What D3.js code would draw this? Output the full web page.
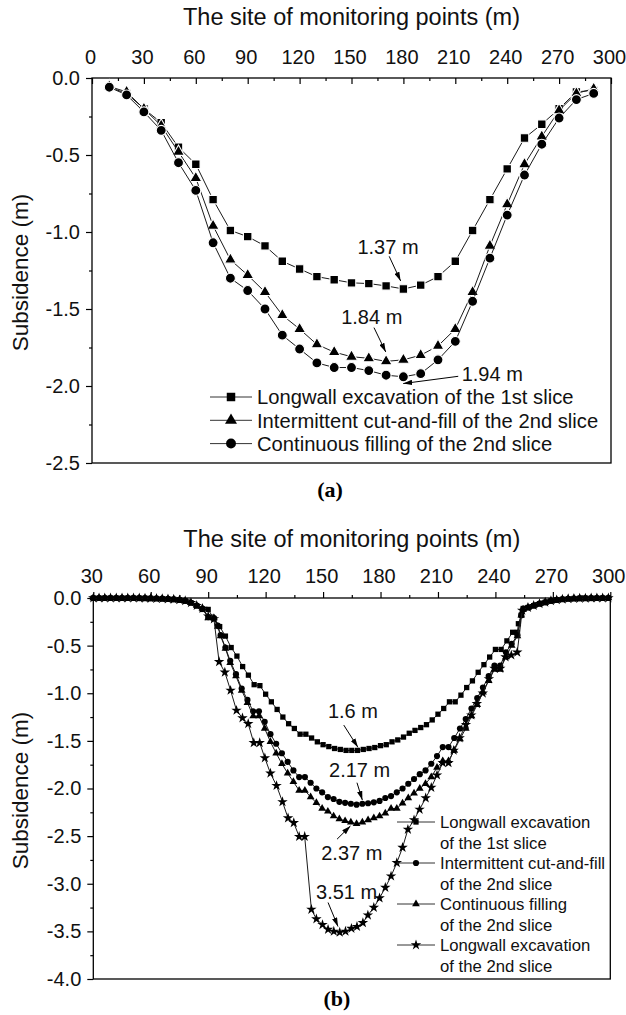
<!DOCTYPE html>
<html>
<head>
<meta charset="utf-8">
<script src="https://cdn.jsdelivr.net/npm/d3@7"></script>
<style>
  body { margin: 0; background: #fff; }
  svg { display: block; font-family: "Liberation Sans", Arial, Helvetica, sans-serif; }
  .axis path { display: none; }
  .axis line { stroke: #000; stroke-width: 1.2; }
  .axis text { font-size: 20px; fill: #111; font-family: "Liberation Sans", Arial, sans-serif; }
  .frame { fill: none; stroke: #000; stroke-width: 1.3; }
  .title { font-size: 23.5px; fill: #111; }
  .ylabel { font-size: 22.5px; fill: #111; }
  .series { fill: none; stroke: #1a1a1a; stroke-width: 1; }
  .note { font-size: 20px; fill: #111; }
  .note-arrow { stroke: #000; stroke-width: 1; }
  .panel-tag { font-family: "Liberation Serif", "Times New Roman", serif; font-weight: bold; font-size: 22px; }
</style>
</head>
<body>
<div id="chart"></div>
<script>

// ---- panel (a) ----
const siteA = [10, 20, 30, 40, 50, 60, 70, 80, 90, 100, 110, 120, 130, 140, 150,
  160, 170, 180, 190, 200, 210, 220, 230, 240, 250, 260, 270, 280, 290];
const longwall1A = [-0.06, -0.10, -0.20, -0.29, -0.45, -0.56, -0.79, -0.99, -1.03, -1.09,
  -1.19, -1.24, -1.29, -1.31, -1.33, -1.335, -1.35, -1.37, -1.345, -1.29, -1.19, -0.99,
  -0.79, -0.59, -0.39, -0.30, -0.20, -0.09, -0.08];
const intermittentA = [-0.055, -0.09, -0.20, -0.31, -0.48, -0.65, -0.96, -1.18, -1.28, -1.39,
  -1.54, -1.63, -1.73, -1.78, -1.81, -1.82, -1.84, -1.83, -1.80, -1.74, -1.63, -1.39,
  -1.09, -0.82, -0.56, -0.38, -0.21, -0.10, -0.07];
const continuousA = [-0.06, -0.11, -0.22, -0.34, -0.55, -0.73, -1.07, -1.30, -1.38, -1.50,
  -1.67, -1.76, -1.85, -1.88, -1.88, -1.90, -1.93, -1.94, -1.92, -1.83, -1.71, -1.45,
  -1.17, -0.89, -0.63, -0.43, -0.26, -0.14, -0.10];
const xTicksA = [0, 30, 60, 90, 120, 150, 180, 210, 240, 270, 300];
const yTicksA = [0, -0.5, -1.0, -1.5, -2.0, -2.5];
const legendA = ['Longwall excavation of the 1st slice',
  'Intermittent cut-and-fill of the 2nd slice',
  'Continuous filling of the 2nd slice'];

// ---- panel (b) ----
const flatLeftB = [[30, 0], [33, 0], [36, 0], [39, 0], [42, 0], [45, 0], [48, 0], [51, 0],
  [54, -0.001], [57, -0.002], [60, -0.003], [63, -0.005], [66, -0.007], [69, -0.01], [72, -0.014],
  [75, -0.02], [78, -0.03], [81, -0.05], [84, -0.08]];
const flatRightB = [[257, -0.10], [260, -0.08], [263, -0.06], [266, -0.045], [269, -0.03],
  [272, -0.02], [275, -0.013], [278, -0.008], [281, -0.005], [284, -0.003], [287, -0.002],
  [290, -0.001], [293, 0], [296, 0], [299, 0]];
const longwall1B = [[87, -0.12], [90, -0.12], [93, -0.22], [96, -0.30], [99, -0.40], [102, -0.52],
  [105, -0.61], [108, -0.72], [111, -0.81], [114, -0.91], [117, -0.92], [120, -1.01], [123, -1.09],
  [126, -1.17], [129, -1.25], [132, -1.32], [135, -1.37], [138, -1.43], [141, -1.43], [144, -1.47],
  [147, -1.51], [150, -1.54], [153, -1.56], [156, -1.58], [159, -1.59], [162, -1.60], [165, -1.60],
  [168, -1.60], [171, -1.59], [174, -1.58], [177, -1.57], [180, -1.55], [183, -1.54], [186, -1.51],
  [189, -1.49], [192, -1.46], [195, -1.42], [198, -1.39], [201, -1.36], [204, -1.33], [207, -1.28],
  [210, -1.22], [213, -1.16], [216, -1.09], [219, -1.09], [222, -1.02], [225, -0.94], [228, -0.87],
  [231, -0.78], [234, -0.70], [237, -0.62], [240, -0.54], [243, -0.54], [246, -0.45], [249, -0.36],
  [251.5, -0.36], [252, -0.27], [253.5, -0.18], [254.5, -0.11]];
const intermittentB = [[87, -0.11], [90, -0.20], [93, -0.21], [95, -0.29], [96.5, -0.39],
  [99, -0.52], [101.5, -0.66], [104.5, -0.80], [107.5, -0.95], [110.5, -1.07], [113.5, -1.19],
  [116.5, -1.19], [119.5, -1.30], [122.5, -1.43], [125.5, -1.53], [128.5, -1.63], [131.5, -1.72],
  [134.5, -1.81], [137.5, -1.88], [140.5, -1.88], [143.5, -1.94], [146.5, -2.00], [149.5, -2.04],
  [152.5, -2.09], [155.5, -2.11], [158.5, -2.14], [161.5, -2.15], [164.5, -2.16], [167.5, -2.17],
  [170.5, -2.16], [173.5, -2.155], [176.5, -2.145], [179.5, -2.13], [182.5, -2.10], [185.5, -2.08],
  [188.5, -2.04], [191.5, -2.00], [194.5, -1.95], [197.5, -1.90], [200.5, -1.85], [203.5, -1.81],
  [206.5, -1.74], [209.5, -1.66], [212.5, -1.565], [215.5, -1.565], [218.5, -1.47], [221.5, -1.37],
  [224.5, -1.27], [227.5, -1.16], [230.5, -1.05], [233.5, -0.94], [236.5, -0.82], [239.5, -0.71],
  [242.5, -0.71], [245.5, -0.57], [248.5, -0.48], [251.5, -0.39], [253.5, -0.18], [254.5, -0.12]];
const continuousB = [[87, -0.11], [90, -0.21], [93, -0.21], [95, -0.30], [96.5, -0.40],
  [99, -0.53], [101.5, -0.68], [104.5, -0.82], [107.5, -0.97], [110.5, -1.10], [113.5, -1.24],
  [116.5, -1.24], [119.5, -1.37], [122.5, -1.51], [125.5, -1.63], [128.5, -1.74], [131.5, -1.84],
  [134.5, -1.93], [137.5, -2.02], [140.5, -2.02], [143.5, -2.09], [146.5, -2.15], [149.5, -2.21],
  [152.5, -2.24], [155.5, -2.29], [158.5, -2.32], [161.5, -2.34], [164.5, -2.355], [167.5, -2.37],
  [170.5, -2.355], [173.5, -2.33], [176.5, -2.31], [179.5, -2.29], [182.5, -2.26], [185.5, -2.21],
  [188.5, -2.21], [191.5, -2.155], [194.5, -2.10], [197.5, -2.05], [200.5, -2.00], [203.5, -1.95],
  [206.5, -1.88], [209.5, -1.78], [212.5, -1.71], [215.5, -1.71], [218.5, -1.60], [221.5, -1.48],
  [224.5, -1.37], [227.5, -1.24], [230.5, -1.12], [233.5, -0.99], [236.5, -0.87], [239.5, -0.75],
  [242.5, -0.75], [245.5, -0.62], [248.5, -0.50], [251.5, -0.40], [253.5, -0.18], [254.5, -0.12]];
const longwall2B = [[87, -0.11], [90, -0.19], [93, -0.22], [95.7, -0.67], [98.7, -0.78],
  [101.7, -0.97], [104.8, -1.18], [107.9, -1.26], [110.9, -1.32], [113.8, -1.52], [116.9, -1.52],
  [119.6, -1.68], [122.5, -1.84], [125.7, -1.97], [128.8, -2.14], [131.7, -2.31], [134.7, -2.36],
  [137.5, -2.505], [140.4, -2.505], [143.9, -3.27], [146.5, -3.37], [149.7, -3.43], [152.6, -3.48],
  [155.6, -3.50], [158.7, -3.51], [161.7, -3.50], [164.8, -3.47], [167.7, -3.45], [170.8, -3.41],
  [173.4, -3.33], [176.5, -3.25], [179.5, -3.15], [182.5, -3.04], [185.5, -2.92], [188.5, -2.78],
  [191.5, -2.62], [194.3, -2.43], [197.5, -2.33], [200.4, -2.22], [203.6, -2.10], [206.5, -1.99],
  [209.5, -1.86], [212.5, -1.73], [215.5, -1.73], [218.2, -1.60], [221.3, -1.47], [224.6, -1.33],
  [227.4, -1.23], [230.3, -1.11], [233.4, -1.00], [236.6, -0.85], [239.5, -0.74], [242.5, -0.74],
  [245.3, -0.62], [248.3, -0.60], [251.4, -0.57], [254, -0.13]];
const xTicksB = [30, 60, 90, 120, 150, 180, 210, 240, 270, 300];
const yTicksB = [0, -0.5, -1.0, -1.5, -2.0, -2.5, -3.0, -3.5, -4.0];
const legendB = [['Longwall excavation', 'of the 1st slice'],
  ['Intermittent cut-and-fill', 'of the 2nd slice'],
  ['Continuous filling', 'of the 2nd slice'],
  ['Longwall excavation', 'of the 2nd slice']];


/**
 * One subsidence panel (frame, axes, curves, notes, legend).
 * @class
 */
class SubsidencePanel {


  /**
   * @constructor
   * @param {Object} config
   */
  constructor(config) {

    this._config = config;
    this._box = config.box;

    this._x = d3.scaleLinear()
      .domain(config.xDomain)
      .range([this._box.left, this._box.left + this._box.width]);

    this._y = d3.scaleLinear()
      .domain(config.yDomain)
      .range([this._box.top, this._box.top + this._box.height]);
  }


  /**
   * Render panel.
   * @param {d3.Selection} svg
   * @returns {SubsidencePanel}
   */
  renderTo(svg) {

    this._g = svg.append('g').attr('class', 'panel');

    this._drawAxes();
    this._drawSeries();
    this._drawNotes();
    this._drawLegend();

    return this;
  }


  _drawAxes() {

    const c = this._config;
    const box = this._box;
    const sign = c.ticksInward ? -1 : 1;
    const minorX = d3.range(c.xDomain[0], c.xDomain[1] + 1, 15).filter(v => c.xTicks.indexOf(v) < 0);
    const minorY = d3.range(0, c.yDomain[1] - 0.01, -0.25).filter(v => Math.abs(v * 2 - Math.round(v * 2)) > 0.01);

    this._g.append('g')
      .attr('class', 'axis')
      .attr('transform', 'translate(0,' + box.top + ')')
      .call(d3.axisTop(this._x)
        .tickValues(c.xTicks)
        .tickSizeInner(6 * sign)
        .tickSizeOuter(0)
        .tickPadding(c.ticksInward ? 14.5 : 9)
        .tickFormat(d3.format('d')))
      .selectAll('text')
      .attr('dx', '-2');

    this._g.append('g')
      .attr('class', 'axis')
      .attr('transform', 'translate(0,' + box.top + ')')
      .call(d3.axisTop(this._x)
        .tickValues(minorX)
        .tickSizeInner(3 * sign)
        .tickSizeOuter(0)
        .tickFormat(''));

    this._g.append('g')
      .attr('class', 'axis')
      .attr('transform', 'translate(' + box.left + ',0)')
      .call(d3.axisLeft(this._y)
        .tickValues(c.yTicks)
        .tickSizeInner(6)
        .tickSizeOuter(0)
        .tickPadding(6)
        .tickFormat(v => v.toFixed(1)));

    this._g.append('g')
      .attr('class', 'axis')
      .attr('transform', 'translate(' + box.left + ',0)')
      .call(d3.axisLeft(this._y)
        .tickValues(minorY)
        .tickSizeInner(3)
        .tickSizeOuter(0)
        .tickFormat(''));

    this._g.append('rect')
      .attr('class', 'frame')
      .attr('x', box.left)
      .attr('y', box.top)
      .attr('width', box.width)
      .attr('height', box.height);

    this._g.append('text')
      .attr('class', 'title')
      .attr('x', box.left + box.width / 2)
      .attr('y', c.titleY)
      .attr('text-anchor', 'middle')
      .text('The site of monitoring points (m)');

    this._g.append('text')
      .attr('class', 'ylabel')
      .attr('transform', 'translate(' + [20, box.top + box.height / 2 + 2] + ') rotate(-90)')
      .attr('dy', '0.35em')
      .attr('text-anchor', 'middle')
      .text('Subsidence (m)');

    this._g.append('text')
      .attr('class', 'panel-tag')
      .attr('x', c.tag.x)
      .attr('y', c.tag.y)
      .attr('text-anchor', 'middle')
      .text(c.tag.text);
  }


  _drawSeries() {

    const line = d3.line()
      .x(d => this._x(d[0]))
      .y(d => this._y(d[1]));

    this._config.series.forEach(s => {

      this._g.append('path')
        .attr('class', 'series')
        .attr('d', line(s.points));

      this._g.selectAll(null)
        .data(s.points)
        .enter()
        .append('path')
        .attr('transform', d => 'translate(' + [this._x(d[0]), this._y(d[1])] + ')')
        .attr('d', d3.symbol().type(s.symbol).size(s.size)())
        .style('fill', '#000')
        .style('stroke', '#fff')
        .style('stroke-width', this._config.markerOutline);
    });
  }


  _drawNotes() {

    this._config.notes.forEach(n => {

      this._g.append('line')
        .attr('class', 'note-arrow')
        .attr('x1', this._x(n.from[0]))
        .attr('y1', this._y(n.from[1]))
        .attr('x2', this._x(n.to[0]))
        .attr('y2', this._y(n.to[1]))
        .attr('marker-end', 'url(#arrow)');

      this._g.append('text')
        .attr('class', 'note')
        .attr('x', this._x(n.at[0]))
        .attr('y', this._y(n.at[1]))
        .attr('dy', '0.36em')
        .attr('text-anchor', n.anchor || 'middle')
        .text(n.text);
    });
  }


  _drawLegend() {

    const lg = this._config.legend;

    this._config.series.forEach((s, i) => {

      const y = lg.top + i * lg.step;
      const lines = [].concat(s.label);

      this._g.append('line')
        .attr('x1', lg.x1)
        .attr('x2', lg.x2)
        .attr('y1', y)
        .attr('y2', y)
        .style('stroke', '#333')
        .style('stroke-width', 1);

      this._g.append('path')
        .attr('transform', 'translate(' + [(lg.x1 + lg.x2) / 2, y] + ')')
        .attr('d', d3.symbol().type(s.symbol).size(s.size)())
        .style('fill', '#000');

      lines.forEach((t, j) => {
        this._g.append('text')
          .attr('x', lg.textX)
          .attr('y', y + j * lg.lineGap)
          .attr('dy', '0.36em')
          .style('font-size', lg.fontSize + 'px')
          .style('fill', '#111')
          .text(t);
      });
    });
  }
}


const svg = d3.select('#chart')
  .append('svg')
  .attr('width', 626)
  .attr('height', 1015);

svg.append('defs')
  .append('marker')
  .attr('id', 'arrow')
  .attr('viewBox', '0 0 10 6')
  .attr('refX', 10)
  .attr('refY', 3)
  .attr('markerUnits', 'userSpaceOnUse')
  .attr('markerWidth', 9)
  .attr('markerHeight', 5.5)
  .attr('orient', 'auto')
  .append('path')
  .attr('d', 'M0,0 L10,3 L0,6 Z')
  .style('fill', '#000');

new SubsidencePanel({
  box: { left: 92, top: 78, width: 519, height: 385 },
  xDomain: [0, 300],
  yDomain: [0, -2.5],
  xTicks: xTicksA,
  yTicks: yTicksA,
  ticksInward: true,
  titleY: 25,
  markerOutline: 1.1,
  tag: { text: '(a)', x: 330, y: 497 },
  series: [
    { label: legendA[0], symbol: d3.symbolSquare, size: 72, points: siteA.map((s, i) => [s, longwall1A[i]]) },
    { label: legendA[1], symbol: d3.symbolTriangle, size: 62, points: siteA.map((s, i) => [s, intermittentA[i]]) },
    { label: legendA[2], symbol: d3.symbolCircle, size: 78, points: siteA.map((s, i) => [s, continuousA[i]]) }
  ],
  notes: [
    { text: '1.37 m', at: [171.1, -1.097], from: [171.8, -1.158], to: [178.4, -1.318] },
    { text: '1.84 m', at: [161.7, -1.552], from: [163, -1.621], to: [169.8, -1.779] },
    { text: '1.94 m', at: [213.7, -1.919], anchor: 'start', from: [211.7, -1.937], to: [179.9, -1.984] }
  ],
  legend: { x1: 210, x2: 252, textX: 257, top: 397, step: 23.3, lineGap: 0, fontSize: 20.2 }
}).renderTo(svg);

new SubsidencePanel({
  box: { left: 93.3, top: 598, width: 517, height: 381 },
  xDomain: [30, 300],
  yDomain: [0, -4],
  xTicks: xTicksB,
  yTicks: yTicksB,
  ticksInward: false,
  titleY: 547,
  markerOutline: 0,
  tag: { text: '(b)', x: 337, y: 1006 },
  series: [
    { label: legendB[0], symbol: d3.symbolSquare, size: 28, points: flatLeftB.concat(longwall1B, flatRightB) },
    { label: legendB[1], symbol: d3.symbolCircle, size: 30, points: flatLeftB.concat(intermittentB, flatRightB) },
    { label: legendB[2], symbol: d3.symbolTriangle, size: 26, points: flatLeftB.concat(continuousB, flatRightB) },
    { label: legendB[3], symbol: d3.symbolStar, size: 34, points: flatLeftB.concat(longwall2B, flatRightB) }
  ],
  notes: [
    { text: '1.6 m', at: [165.6, -1.184], from: [160.8, -1.334], to: [168.2, -1.568] },
    { text: '2.17 m', at: [169.1, -1.806], from: [167.7, -1.939], to: [170.5, -2.121] },
    { text: '2.37 m', at: [165, -2.679], from: [157.3, -2.532], to: [164.3, -2.393] },
    { text: '3.51 m', at: [162.3, -3.082], from: [152.6, -3.197], to: [157.8, -3.449] }
  ],
  legend: { x1: 397, x2: 435, textX: 440, top: 822, step: 41, lineGap: 20.5, fontSize: 16.7 }
}).renderTo(svg);

</script>
</body>
</html>
